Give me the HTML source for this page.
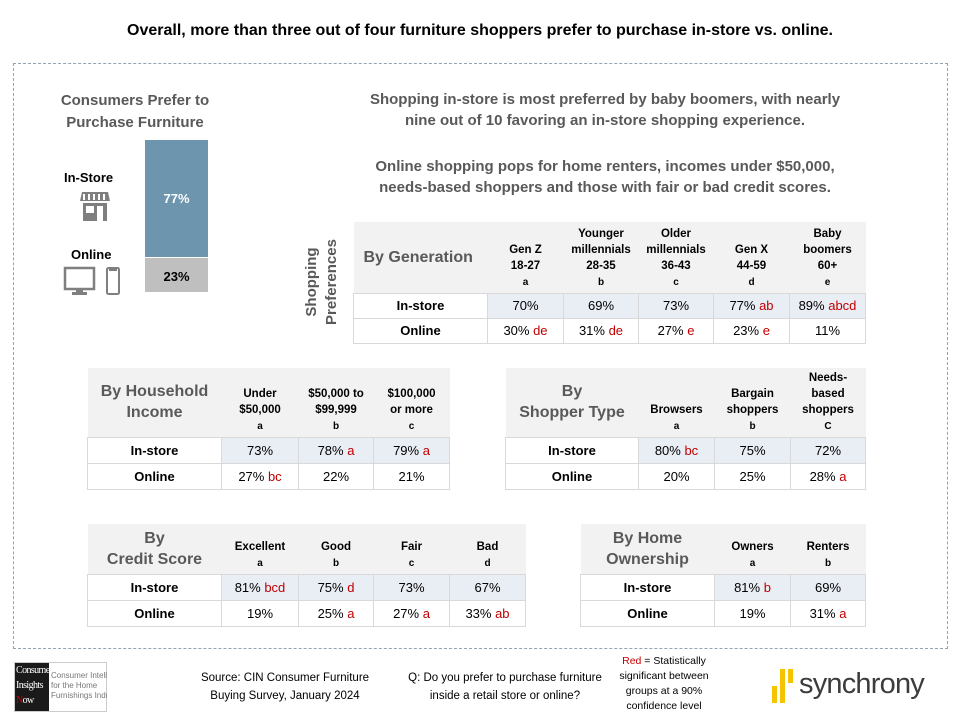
<!DOCTYPE html>
<html><head><meta charset="utf-8"><style>
*{margin:0;padding:0;box-sizing:border-box}
body{width:960px;height:720px;background:#fff;font-family:"Liberation Sans",sans-serif;position:relative;overflow:hidden;color:#000}
.a{position:absolute}
table{position:absolute;border-collapse:collapse;table-layout:fixed}
td{text-align:center;vertical-align:middle;font-size:13px;border:1px solid #d9d9d9;padding:0;white-space:nowrap}
tr.h td{background:#f2f2f2;border:none;font-weight:bold;font-size:11.5px;line-height:16px;vertical-align:bottom;padding-bottom:2px}
tr.h td.t{color:#595959;font-size:16px;line-height:21px;vertical-align:middle;padding:0}
tr.h small{font-size:10px;font-weight:bold}
tr.i td{background:#e9edf4}
td.l{font-weight:bold;background:#fff!important;font-size:13px}
.r{color:#c00000}
</style></head><body>
<div class="a" style="left:0;top:22px;width:960px;text-align:center;font-weight:bold;font-size:16px">Overall, more than three out of four furniture shoppers prefer to purchase in-store vs. online.</div>
<div class="a" style="left:13px;top:63px;width:935px;height:586px;border:1px dashed #8fa5b3"></div>

<div class="a" style="left:40px;top:90px;width:190px;text-align:center;font-weight:bold;font-size:15px;line-height:22px;color:#595959">Consumers Prefer to<br>Purchase Furniture</div>
<div class="a" style="left:145px;top:140px;width:63px;height:117px;background:#6d95ad;color:#fff;font-weight:bold;font-size:13px;text-align:center;line-height:117px">77%</div>
<div class="a" style="left:145px;top:258px;width:63px;height:34px;background:#bfbfbf;font-weight:bold;font-size:13px;text-align:center;line-height:38px">23%</div>
<div class="a" style="left:64px;top:170px;font-weight:bold;font-size:13px">In-Store</div>
<svg class="a" style="left:80px;top:190px" width="30" height="32" viewBox="0 0 30 32"><path d="M2 2h26l2 9H0z" fill="#7f7f7f"/><path d="M4 4v6M9 4v6M14 4v6M19 4v6M24 4v6" stroke="#fff" stroke-width="2"/><rect x="3" y="13" width="24" height="18" fill="#7f7f7f"/><rect x="6" y="16" width="8" height="7" fill="#fff"/><rect x="17" y="16" width="6" height="15" fill="#fff"/></svg>
<div class="a" style="left:71px;top:247px;font-weight:bold;font-size:13px">Online</div>
<svg class="a" style="left:63px;top:266px" width="60" height="30" viewBox="0 0 60 30"><rect x="2" y="2" width="29" height="21" fill="none" stroke="#7f7f7f" stroke-width="2.5"/><rect x="13" y="23" width="7" height="4" fill="#7f7f7f"/><rect x="9" y="26" width="15" height="3" fill="#7f7f7f"/><rect x="44" y="2" width="12" height="26" rx="1.5" fill="none" stroke="#7f7f7f" stroke-width="2"/><rect x="46" y="3" width="8" height="2" fill="#7f7f7f"/></svg>

<div class="a" style="left:300px;top:89px;width:610px;text-align:center;font-weight:bold;font-size:15px;line-height:21px;color:#595959">Shopping in-store is most preferred by baby boomers, with nearly<br>nine out of 10 favoring an in-store shopping experience.</div>
<div class="a" style="left:300px;top:156px;width:610px;text-align:center;font-weight:bold;font-size:15px;line-height:21px;color:#595959">Online shopping pops for home renters, incomes under $50,000,<br>needs-based shoppers and those with fair or bad credit scores.</div>
<div class="a" style="left:262px;top:282px;width:120px;transform:rotate(-90deg);transform-origin:center;text-align:center;font-weight:bold;font-size:15px;line-height:20px;color:#595959;margin-top:-20px">Shopping<br>Preferences</div>

<table style="left:353px;top:222px;width:512px">
<colgroup><col style="width:134px"><col style="width:76px"><col style="width:75px"><col style="width:75px"><col style="width:76px"><col style="width:76px"></colgroup>
<tr class="h" style="height:71px"><td class="t" style="text-align:left;padding-left:10px">By Generation</td><td>Gen Z<br>18-27<br><small>a</small></td><td>Younger<br>millennials<br>28-35<br><small>b</small></td><td>Older<br>millennials<br>36-43<br><small>c</small></td><td>Gen X<br>44-59<br><small>d</small></td><td>Baby<br>boomers<br>60+<br><small>e</small></td></tr>
<tr class="i" style="height:25px"><td class="l">In-store</td><td>70%</td><td>69%</td><td>73%</td><td>77% <span class="r">ab</span></td><td>89% <span class="r">abcd</span></td></tr>
<tr style="height:25px"><td class="l">Online</td><td>30% <span class="r">de</span></td><td>31% <span class="r">de</span></td><td>27% <span class="r">e</span></td><td>23% <span class="r">e</span></td><td>11%</td></tr>
</table>

<table style="left:87px;top:368px;width:362px">
<colgroup><col style="width:134px"><col style="width:77px"><col style="width:75px"><col style="width:76px"></colgroup>
<tr class="h" style="height:69px"><td class="t">By Household<br>Income</td><td>Under<br>$50,000<br><small>a</small></td><td>$50,000 to<br>$99,999<br><small>b</small></td><td>$100,000<br>or more<br><small>c</small></td></tr>
<tr class="i" style="height:26px"><td class="l">In-store</td><td>73%</td><td>78% <span class="r">a</span></td><td>79% <span class="r">a</span></td></tr>
<tr style="height:26px"><td class="l">Online</td><td>27% <span class="r">bc</span></td><td>22%</td><td>21%</td></tr>
</table>

<table style="left:505px;top:368px;width:360px">
<colgroup><col style="width:133px"><col style="width:76px"><col style="width:76px"><col style="width:75px"></colgroup>
<tr class="h" style="height:69px"><td class="t">By<br>Shopper Type</td><td>Browsers<br><small>a</small></td><td>Bargain<br>shoppers<br><small>b</small></td><td>Needs-<br>based<br>shoppers<br><small>C</small></td></tr>
<tr class="i" style="height:26px"><td class="l">In-store</td><td>80% <span class="r">bc</span></td><td>75%</td><td>72%</td></tr>
<tr style="height:26px"><td class="l">Online</td><td>20%</td><td>25%</td><td>28% <span class="r">a</span></td></tr>
</table>

<table style="left:87px;top:524px;width:438px">
<colgroup><col style="width:134px"><col style="width:77px"><col style="width:75px"><col style="width:76px"><col style="width:76px"></colgroup>
<tr class="h" style="height:50px"><td class="t">By<br>Credit Score</td><td>Excellent<br><small>a</small></td><td>Good<br><small>b</small></td><td>Fair<br><small>c</small></td><td>Bad<br><small>d</small></td></tr>
<tr class="i" style="height:26px"><td class="l">In-store</td><td>81% <span class="r">bcd</span></td><td>75% <span class="r">d</span></td><td>73%</td><td>67%</td></tr>
<tr style="height:26px"><td class="l">Online</td><td>19%</td><td>25% <span class="r">a</span></td><td>27% <span class="r">a</span></td><td>33% <span class="r">ab</span></td></tr>
</table>

<table style="left:580px;top:524px;width:285px">
<colgroup><col style="width:134px"><col style="width:76px"><col style="width:75px"></colgroup>
<tr class="h" style="height:50px"><td class="t">By Home<br>Ownership</td><td>Owners<br><small>a</small></td><td>Renters<br><small>b</small></td></tr>
<tr class="i" style="height:26px"><td class="l">In-store</td><td>81% <span class="r">b</span></td><td>69%</td></tr>
<tr style="height:26px"><td class="l">Online</td><td>19%</td><td>31% <span class="r">a</span></td></tr>
</table>

<div class="a" style="left:14px;top:662px;width:93px;height:50px;border:1px solid #ccc"></div>
<div class="a" style="left:15px;top:663px;width:34px;height:48px;background:#1a1a1a;color:#fff;font-family:'Liberation Serif',serif;font-size:10px;line-height:15px;padding-left:1px;overflow:hidden;letter-spacing:-0.6px">Consumer<br>Insights<br><span style="color:#c00">N</span>ow</div>
<div class="a" style="left:51px;top:671px;font-size:8px;line-height:10px;color:#777;width:56px;overflow:hidden;white-space:nowrap">Consumer Intelligence<br>for the Home<br>Furnishings Industry</div>
<div class="a" style="left:190px;top:669px;width:190px;text-align:center;font-size:11.5px;line-height:18px;white-space:nowrap">Source: CIN Consumer Furniture<br>Buying Survey, January 2024</div>
<div class="a" style="left:400px;top:669px;width:210px;text-align:center;font-size:11.5px;line-height:18px;white-space:nowrap">Q: Do you prefer to purchase furniture<br>inside a retail store or online?</div>
<div class="a" style="left:614px;top:654px;width:100px;text-align:center;font-size:10.5px;line-height:15px;white-space:nowrap">
<span style="color:#c00">Red</span> = Statistically<br>significant between<br>groups at a 90%<br>confidence level</div>
<div class="a" style="left:772px;top:686px;width:5px;height:17px;background:#f5c400"></div>
<div class="a" style="left:780px;top:669px;width:5px;height:34px;background:#f5c400"></div>
<div class="a" style="left:788px;top:669px;width:5px;height:14px;background:#f5c400"></div>
<div class="a" style="left:799px;top:668px;font-size:29px;color:#3c3c3c;letter-spacing:-0.8px">synchrony</div>
</body></html>
